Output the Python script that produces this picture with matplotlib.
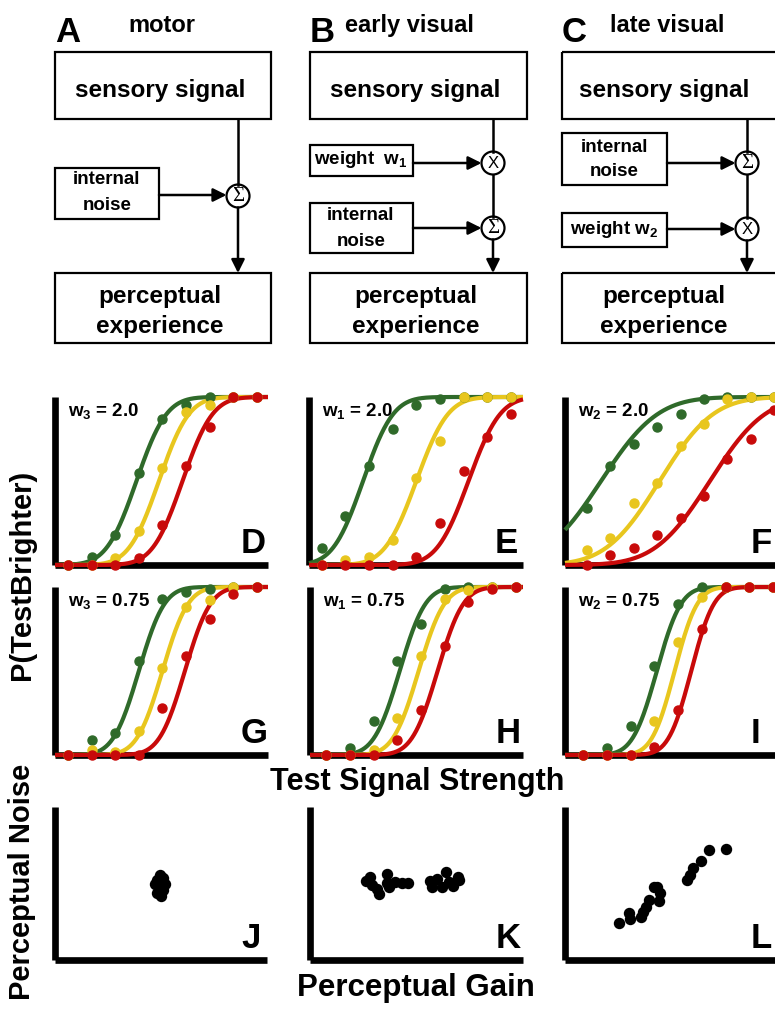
import math
import numpy as np
import matplotlib
matplotlib.use("Agg")
import matplotlib.pyplot as plt
from matplotlib.patches import Rectangle, Circle

plt.rcParams['font.family'] = ['Liberation Sans', 'DejaVu Sans']
plt.rcParams['font.weight'] = 'bold'
plt.rcParams['mathtext.fontset'] = 'custom'
plt.rcParams['mathtext.rm'] = 'Liberation Sans:bold'
plt.rcParams['mathtext.it'] = 'Liberation Sans:bold'
plt.rcParams['mathtext.bf'] = 'Liberation Sans:bold'

# ---- dados ----
niveis = [1, 2, 3, 4, 5, 6, 7, 8, 9]

# proporção "teste mais claro" por nível (verde, amarelo, vermelho)
D_verde = [0, 0.05, 0.18, 0.55, 0.87, 0.95, 1.0, 1.0, 1.0]
D_amarelo = [0, 0, 0.04, 0.20, 0.58, 0.91, 0.95, 1.0, 1.0]
D_vermelho = [0, 0, 0, 0.04, 0.24, 0.59, 0.82, 1.0, 1.0]

E_verde = [0.10, 0.29, 0.59, 0.81, 0.95, 0.99, 1.0, 1.0, 1.0]
E_amarelo = [0, 0.03, 0.05, 0.15, 0.52, 0.74, 1.0, 1.0, 1.0]
E_vermelho = [0, 0, 0, 0, 0.05, 0.25, 0.56, 0.76, 0.90]

F_verde = [0.34, 0.59, 0.72, 0.82, 0.90, 0.99, 1.0, 1.0, 1.0]
F_amarelo = [0.09, 0.16, 0.37, 0.49, 0.71, 0.84, 0.99, 1.0, 1.0]
F_vermelho = [0, 0.06, 0.10, 0.18, 0.28, 0.41, 0.63, 0.75, 0.92]

G_verde = [0, 0.09, 0.13, 0.56, 0.93, 0.97, 0.99, 1.0, 1.0]
G_amarelo = [0, 0.03, 0.02, 0.14, 0.52, 0.88, 0.92, 1.0, 1.0]
G_vermelho = [0, 0, 0, 0, 0.28, 0.59, 0.81, 0.96, 1.0]

H_verde = [0, 0.04, 0.20, 0.56, 0.78, 0.99, 1.0, 1.0, 1.0]
H_amarelo = [0, 0, 0.03, 0.22, 0.59, 0.93, 0.98, 1.0, 1.0]
H_vermelho = [0, 0, 0, 0.09, 0.27, 0.65, 0.91, 0.99, 1.0]

I_verde = [0, 0.04, 0.17, 0.53, 0.90, 1.0, 1.0, 1.0, 1.0]
I_amarelo = [0, 0, 0, 0.20, 0.67, 0.94, 1.0, 1.0, 1.0]
I_vermelho = [0, 0, 0, 0.05, 0.27, 0.75, 1.0, 1.0, 1.0]

# ajustes (média, desvio) das curvas psicométricas
D_ajuste = [(3.9, 1.0), (4.85, 1.0), (5.85, 1.0)]
E_ajuste = [(2.75, 1.0), (5.0, 1.05), (7.2, 1.05)]
F_ajuste = [(1.6, 1.9), (4.1, 1.8), (6.25, 1.85)]
G_ajuste = [(4.0, 0.85), (5.0, 0.85), (5.95, 0.85)]
H_ajuste = [(4.1, 0.85), (4.9, 0.85), (5.7, 0.85)]
I_ajuste = [(4.1, 0.8), (4.85, 0.75), (5.55, 0.75)]

# ganho x ruído perceptual (J, K, L)
J_ganho = [4.81, 5.09, 4.95, 4.72, 5.19, 4.91, 5.09, 4.81, 5.00, 4.95]
J_ruido = [5.23, 5.36, 5.56, 4.97, 4.97, 4.71, 4.58, 4.38, 4.18, 4.84]
K_ganho = [2.63, 2.82, 2.91, 3.15, 3.24, 3.62, 3.62, 3.71, 3.99, 4.32, 4.60,
           5.63, 5.73, 5.96, 6.20, 6.38, 6.53, 6.71, 6.95, 7.00]
K_ruido = [5.16, 5.42, 4.90, 4.64, 4.31, 5.62, 5.03, 4.77, 5.10, 5.03, 5.03,
           5.16, 4.77, 5.29, 4.77, 5.75, 5.10, 4.84, 5.42, 5.23]
L_ganho = [2.54, 3.00, 3.05, 3.57, 3.66, 3.80, 3.94, 4.18, 4.32, 4.46, 4.41,
           5.73, 5.87, 6.01, 6.38, 6.76, 7.56]
L_ruido = [2.42, 3.07, 2.68, 2.81, 3.14, 3.46, 3.92, 4.77, 4.77, 4.38, 3.86,
           5.23, 5.56, 6.01, 6.47, 7.19, 7.25]

cores = ['#2f6a2a', '#e8c61e', '#c80a0a']

W, H = 775, 1010
fig = plt.figure(figsize=(W / 100, H / 100), dpi=100)


def eixo_px(x0, y0, x1, y1):
    return fig.add_axes([x0 / W, 1 - y1 / H, (x1 - x0) / W, (y1 - y0) / H])


def cdf_normal(x, mu, sd):
    erf = np.vectorize(math.erf)
    return 0.5 * (1 + erf((x - mu) / (sd * math.sqrt(2))))


def estilo_eixo(ax):
    for lado in ['top', 'right']:
        ax.spines[lado].set_visible(False)
    for lado in ['left', 'bottom']:
        ax.spines[lado].set_linewidth(4.8)
        ax.spines[lado].set_capstyle('butt')
    ax.set_xticks([])
    ax.set_yticks([])
    ax.patch.set_alpha(0)


def letra_painel(ax, x0, letra):
    # letras alinhadas à esquerda, ~187 px depois do eixo vertical
    ax.text(x0 + 186, 0.03, letra, transform=ax.get_yaxis_transform(), fontsize=25,
            ha='left', va='bottom', zorder=5)


# ---- diagramas A, B, C ----
dg = fig.add_axes([0, 0, 1, 1])
dg.set_xlim(0, W)
dg.set_ylim(H, 0)
dg.axis('off')


def caixa(x0, y0, x1, y1):
    dg.add_patch(Rectangle((x0, y0), x1 - x0, y1 - y0, fill=False, lw=1.6, ec='k'))


def seta(x0, y0, x1, y1):
    dg.annotate('', xy=(x1, y1), xytext=(x0, y0),
                arrowprops=dict(arrowstyle='-|>', lw=1.8, color='k', mutation_scale=20,
                                shrinkA=0, shrinkB=0))


def no(x, y, simbolo):
    dg.add_patch(Circle((x, y), 11.5, fill=False, lw=1.6, ec='k'))
    if simbolo == 'S':
        dg.text(x, y + 0.5, '\u03a3', family='Liberation Serif', fontweight='normal',
                fontsize=15, ha='center', va='center')
    else:
        dg.text(x, y + 0.5, 'X', fontweight='normal', fontsize=12, ha='center', va='center')


def texto(x, y, s, fs=17.5):
    dg.text(x, y, s, fontsize=fs, ha='center', va='center')


for x0, x1, letra, titulo, xt in [(55, 271, 'A', 'motor', 128), (310, 527, 'B', 'early visual', 345),
                                  (562, 778, 'C', 'late visual', 610)]:
    dg.text(x0, 42, letra, fontsize=25, va='baseline', ha='left')
    dg.text(xt, 32, titulo, fontsize=17, va='baseline', ha='left')
    caixa(x0, 52, x1, 119)
    texto((x0 + min(x1, 772)) / 2 - 3, 90, 'sensory signal')
    caixa(x0, 273, x1, 343)
    texto((x0 + min(x1, 772)) / 2 - 3, 296, 'perceptual')
    texto((x0 + min(x1, 772)) / 2 - 3, 326, 'experience')

# A
caixa(55, 168, 159, 219)
texto(107, 180, 'internal', 13.5)
texto(107, 205, 'noise', 13.5)
dg.plot([238, 238], [119, 184.5], color='k', lw=1.8)
no(238, 196, 'S')
seta(159, 195, 226.5, 195)
seta(238, 207.5, 238, 273)

# B
caixa(310, 145, 413, 176)
texto(361, 160, 'weight  w$_1$', 13.5)
caixa(310, 203, 413, 253)
texto(361, 216, 'internal', 13.5)
texto(361, 241, 'noise', 13.5)
dg.plot([493, 493], [119, 151.5], color='k', lw=1.8)
no(493, 163, 'X')
dg.plot([493, 493], [174.5, 216.5], color='k', lw=1.8)
no(493, 228, 'S')
seta(413, 163, 481.5, 163)
seta(413, 228, 481.5, 228)
seta(493, 239.5, 493, 273)

# C
caixa(562, 133, 667, 185)
texto(614, 147, 'internal', 13.5)
texto(614, 172, 'noise', 13.5)
caixa(562, 213, 667, 247)
texto(614, 229, 'weight w$_2$', 13.5)
dg.plot([747, 747], [119, 151.5], color='k', lw=1.8)
no(747, 163, 'S')
dg.plot([747, 747], [174.5, 217.5], color='k', lw=1.8)
no(747, 229, 'X')
seta(667, 163, 735.5, 163)
seta(667, 229, 735.5, 229)
seta(747, 240.5, 747, 273)

# ---- curvas psicométricas D-I ----
paineis = [
    ('D', (55, 397, 268, 565), (0.45, 9.47), [D_verde, D_amarelo, D_vermelho], D_ajuste, 'w$_3$ = 2.0'),
    ('E', (309, 397, 523, 565), (0.47, 9.5), [E_verde, E_amarelo, E_vermelho], E_ajuste, 'w$_1$ = 2.0'),
    ('F', (565, 397, 779, 565), (0.06, 9.2), [F_verde, F_amarelo, F_vermelho], F_ajuste, 'w$_2$ = 2.0'),
    ('G', (55, 587, 268, 755), (0.45, 9.47), [G_verde, G_amarelo, G_vermelho], G_ajuste, 'w$_3$ = 0.75'),
    ('H', (310, 587, 523, 755), (0.32, 9.3), [H_verde, H_amarelo, H_vermelho], H_ajuste, 'w$_1$ = 0.75'),
    ('I', (565, 587, 779, 755), (0.23, 9.25), [I_verde, I_amarelo, I_vermelho], I_ajuste, 'w$_2$ = 0.75'),
]

for letra, caixa_px, xlim, series, ajustes, rotulo in paineis:
    ax = eixo_px(*caixa_px)
    estilo_eixo(ax)
    ax.set_xlim(*xlim)
    ax.set_ylim(0, 1.0)
    xs = np.linspace(xlim[0], xlim[1], 300)
    for cor, ys, (mu, sd) in zip(cores, series, ajustes):
        ax.plot(xs, cdf_normal(xs, mu, sd), color=cor, lw=3.0, zorder=3, clip_on=False,
                solid_capstyle='butt')
        ax.plot(niveis, ys, 'o', color=cor, ms=6.5, zorder=4, clip_on=False)
    ax.text(0.06, 0.915, rotulo, transform=ax.transAxes, fontsize=13.5, ha='left',
            va='center', zorder=5)
    fig.text((caixa_px[0] + 186) / W, 1 - (caixa_px[3] - 5) / H, letra, fontsize=25,
             ha='left', va='bottom', zorder=5)

# ---- ganho x ruído J-L ----
dispersoes = [
    ('J', (55, 807, 267, 960), J_ganho, J_ruido),
    ('K', (310, 807, 523, 960), K_ganho, K_ruido),
    ('L', (565, 807, 778, 960), L_ganho, L_ruido),
]
for letra, caixa_px, gx, ry in dispersoes:
    ax = eixo_px(*caixa_px)
    estilo_eixo(ax)
    ax.set_xlim(0, 10)
    ax.set_ylim(0, 10)
    ax.plot(gx, ry, 'o', color='k', ms=7.2, zorder=3)
    fig.text((caixa_px[0] + 186) / W, 1 - (caixa_px[3] - 5) / H, letra, fontsize=25,
             ha='left', va='bottom', zorder=5)

# rótulos gerais
fig.text(22 / W, 1 - 575 / H, 'P(TestBrighter)', rotation=90, fontsize=21, ha='center', va='center')
fig.text(417 / W, 1 - 782 / H, 'Test Signal Strength', fontsize=22, ha='center', va='center')
fig.text(22 / W, 1 - 882 / H, 'Perceptual Noise', rotation=90, fontsize=21, ha='center', va='center')
fig.text(416 / W, 1 - 988 / H, 'Perceptual Gain', fontsize=22.5, ha='center', va='center')

fig.savefig('out.png', dpi=100)
